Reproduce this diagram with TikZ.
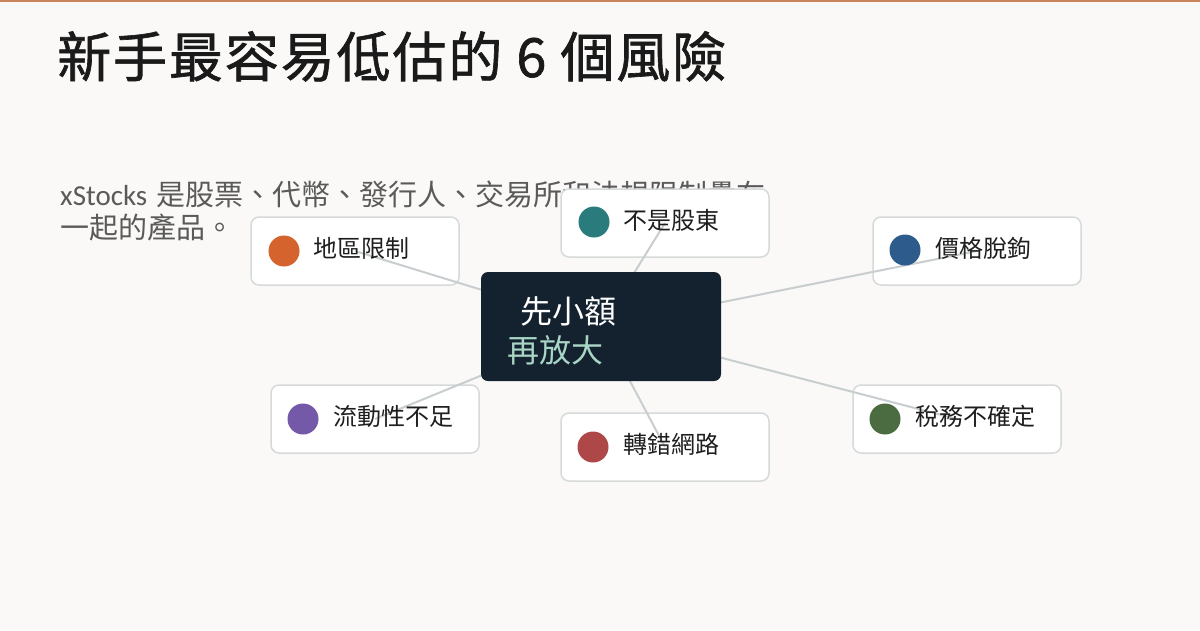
\documentclass[tikz,border=0pt]{standalone}
\usepackage{fontspec}
\newfontfamily\cjk{Noto Sans CJK TC}
\newfontfamily\cjkt[FakeBold=1.2,LetterSpace=3.5]{Noto Sans CJK TC}
\newfontfamily\lat{Carlito}
\definecolor{bgc}{HTML}{FAF9F7}
\definecolor{topc}{HTML}{C8845A}
\definecolor{titc}{HTML}{1A1A1A}
\definecolor{subc}{HTML}{5A5A5A}
\definecolor{boxd}{HTML}{D6DADA}
\definecolor{connc}{HTML}{C8CED0}
\definecolor{ctrc}{HTML}{13222E}
\definecolor{ctrtwo}{HTML}{A9D4C6}
\definecolor{labc}{HTML}{1E1E1E}
\definecolor{dorange}{HTML}{D4632E}
\definecolor{dteal}{HTML}{2A7B7B}
\definecolor{dblue}{HTML}{2C5B8C}
\definecolor{dpurple}{HTML}{7459A8}
\definecolor{dred}{HTML}{AE4747}
\definecolor{dgreen}{HTML}{4B6B40}
\tikzset{
  riskbox/.style={draw=boxd, line width=1.5pt, fill=white, rounded corners=8pt,
    minimum width=208pt, minimum height=68pt, inner sep=0pt},
  dotc/.style={circle, fill=#1, minimum size=31pt, inner sep=0pt},
  risklab/.style={anchor=west, inner sep=0pt, text=labc, font=\cjk\fontsize{24}{28}\selectfont},
  conn/.style={draw=connc, line width=2pt},
  ctrbox/.style={fill=ctrc, rounded corners=7pt, minimum width=240pt, minimum height=109pt, inner sep=0pt},
  ctrlab/.style={anchor=west, inner sep=0pt, font=\cjk\fontsize{32}{36}\selectfont},
}
\begin{document}
\begin{tikzpicture}[x=1pt,y=-1pt]
\useasboundingbox (0,0) rectangle (1200,630);
\fill[bgc] (0,0) rectangle (1200,630);
\fill[topc] (0,0) rectangle (1200,2);
% title
\node[anchor=base west, inner sep=0pt, text=titc, font=\cjkt\fontsize{54}{60}\selectfont] (title) at (57,77) {新手最容易低估的 6 個風險};
% subtitle
\node[anchor=base west, inner sep=0pt, text=subc, font=\fontsize{29}{33}\selectfont] (sub1) at (60,205) {{\lat xStocks} {\cjk 是股票、代幣、發行人、交易所和法規限制疊在}};
\node[anchor=base west, inner sep=0pt, text=subc, font=\cjk\fontsize{29}{33}\selectfont] (sub2) at (60,238) {一起的產品。};
% boxes
\node[riskbox] (r1) at (355,251) {};
\node[riskbox] (r2) at (665,223) {};
\node[riskbox] (r3) at (977,251) {};
\node[riskbox] (r4) at (375,419) {};
\node[riskbox] (r5) at (665,447) {};
\node[riskbox] (r6) at (957,419) {};
% connectors
\coordinate (cc) at (601,326.5);
\foreach \r in {r1,r2,r3,r4,r5,r6} \draw[conn] (cc) -- (\r.center);
% dots and labels
\node[dotc=dorange] (d1) at (284,251) {};
\node[risklab] (l1) at (313,248) {地區限制};
\node[dotc=dteal] (d2) at (594,222) {};
\node[risklab] (l2) at (623,220) {不是股東};
\node[dotc=dblue] (d3) at (905,250) {};
\node[risklab] (l3) at (935,248) {價格脫鉤};
\node[dotc=dpurple] (d4) at (303,419) {};
\node[risklab] (l4) at (333,416) {流動性不足};
\node[dotc=dred] (d5) at (593,447) {};
\node[risklab] (l5) at (623,444) {轉錯網路};
\node[dotc=dgreen] (d6) at (885,419) {};
\node[risklab] (l6) at (915,416) {稅務不確定};
% center
\node[ctrbox] (c) at (cc) {};
\node[ctrlab, text=white] (c1) at (520,311) {先小額};
\node[ctrlab, text=ctrtwo] (c2) at (507,350) {再放大};
\end{tikzpicture}
\end{document}
